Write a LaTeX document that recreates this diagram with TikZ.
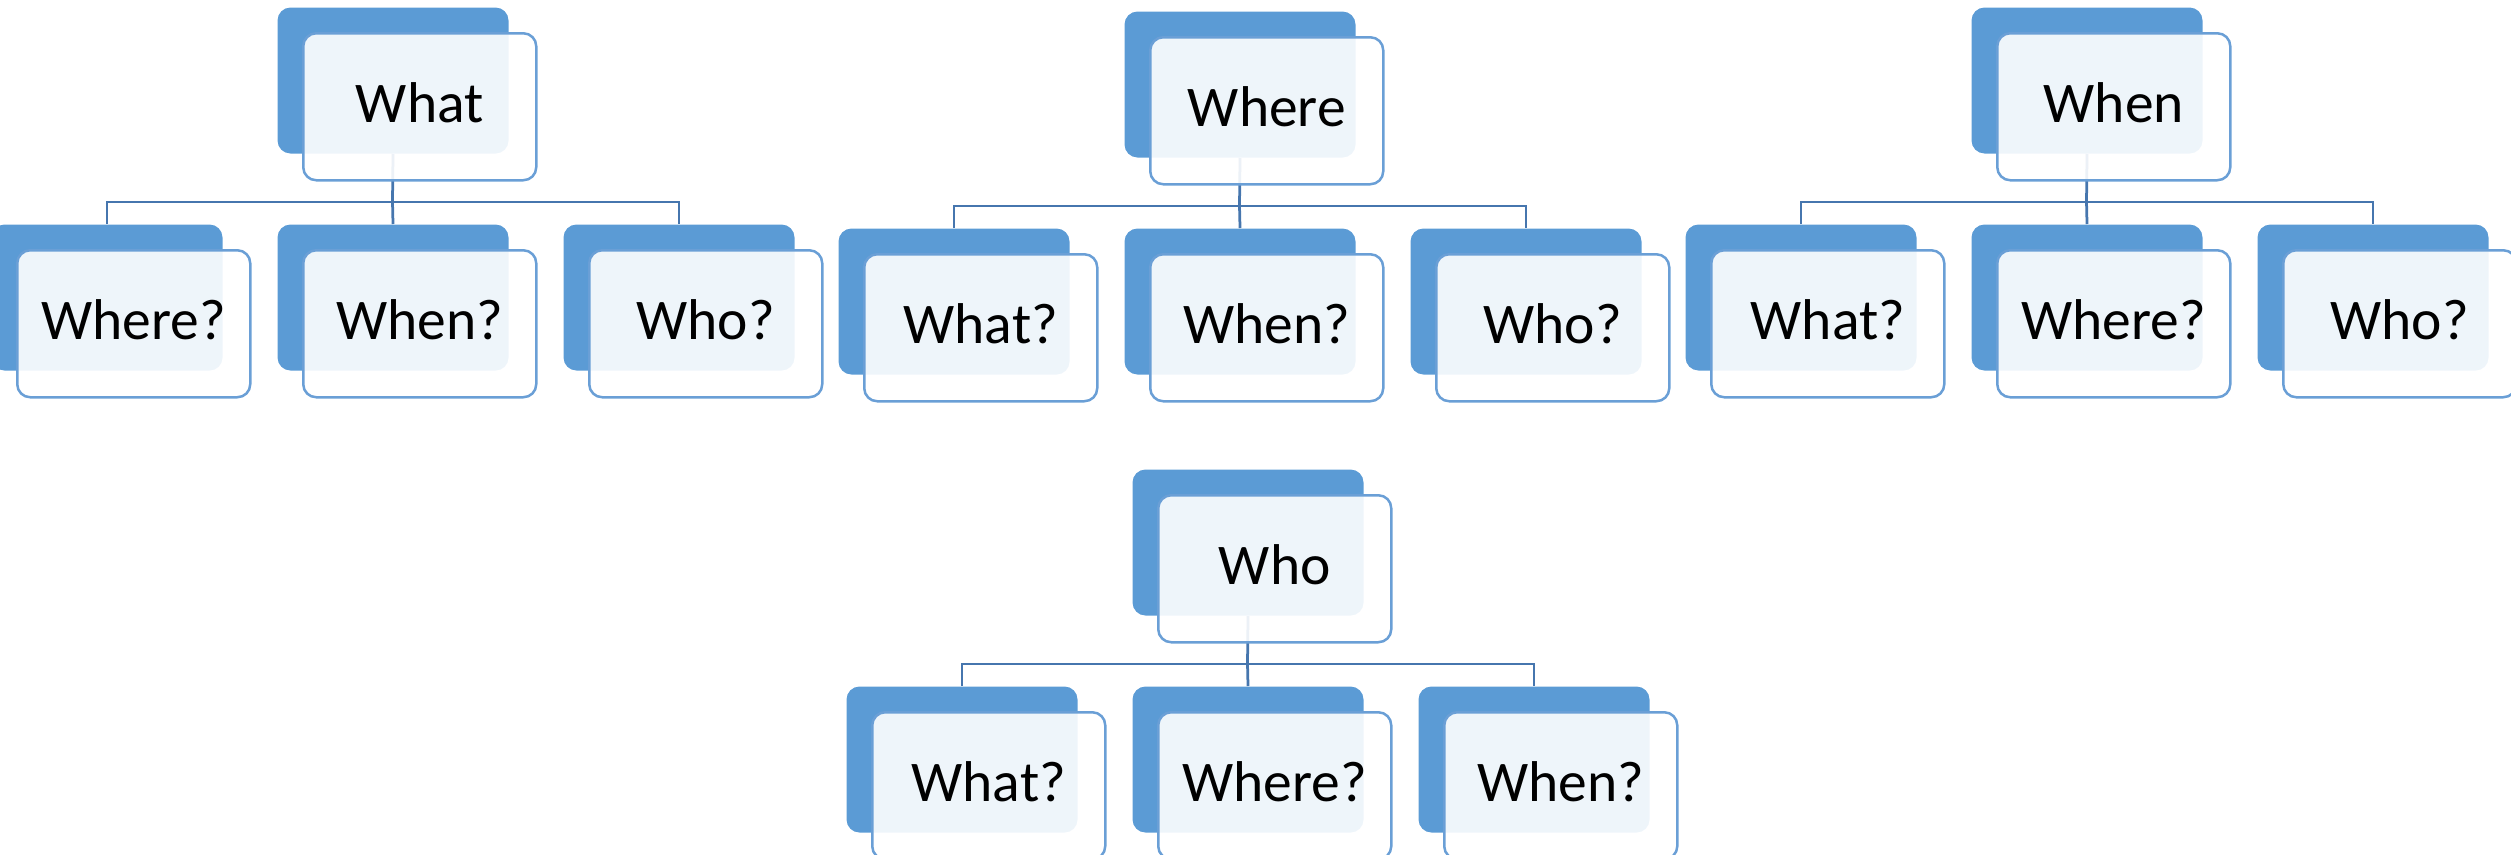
\documentclass[tikz,border=0pt]{standalone}
\usepackage{fontspec}
\setmainfont{Carlito}
\usetikzlibrary{calc}
\definecolor{darkblue}{HTML}{5B9BD5}
\definecolor{edgeblue}{HTML}{6A9FD6}
\definecolor{linkblue}{HTML}{4676AE}
\tikzset{
  backbox/.style={rectangle, rounded corners=5.2pt, fill=darkblue, draw=none,
    minimum width=92.4pt, minimum height=58.4pt, inner sep=0pt, anchor=north west},
  frontbox/.style={rectangle, rounded corners=5.2pt, fill=white, fill opacity=0.9,
    text opacity=1, draw=edgeblue, line width=1pt, minimum width=93.2pt,
    minimum height=58.8pt, inner sep=0pt, anchor=north west,
    text height=16pt, text depth=3.5pt,
    font=\fontsize{23}{27}\selectfont},
  conn/.style={draw=linkblue, line width=1.1pt},
}
\newcommand\qgroup[7]{%
  \node[backbox] (#1pb) at (#2,#3) {};
  \node[backbox] (#1ab) at (#2-286,#3+217) {};
  \node[backbox] (#1bb) at (#2,#3+217) {};
  \node[backbox] (#1cb) at (#2+286,#3+217) {};
  \coordinate (#1j) at (#2+115.5,#3+195);
  \draw[conn] (#1pb.south) -- (#1j);
  \draw[conn] (#1ab.north) |- (#1j) -| (#1cb.north);
  \draw[conn] (#1j) -- (#1bb.north);
  \node[frontbox] (#1p) at (#2+25,#3+25) {#4};
  \node[frontbox] (#1a) at (#2-261,#3+242) {#5};
  \node[frontbox] (#1b) at (#2+25,#3+242) {#6};
  \node[frontbox] (#1c) at (#2+311,#3+242) {#7};
}
\begin{document}
\begin{tikzpicture}[x=0.4pt, y=-0.4pt]
  \clip (0,0) rectangle (2511,854);
  \qgroup{ga}{277}{7}{What}{Where?}{When?}{Who?}
  \qgroup{gb}{1124}{11}{Where}{What?}{When?}{Who?}
  \qgroup{gc}{1971}{7}{When}{What?}{Where?}{Who?}
  \qgroup{gd}{1132}{469}{Who}{What?}{Where?}{When?}
\end{tikzpicture}
\end{document}
